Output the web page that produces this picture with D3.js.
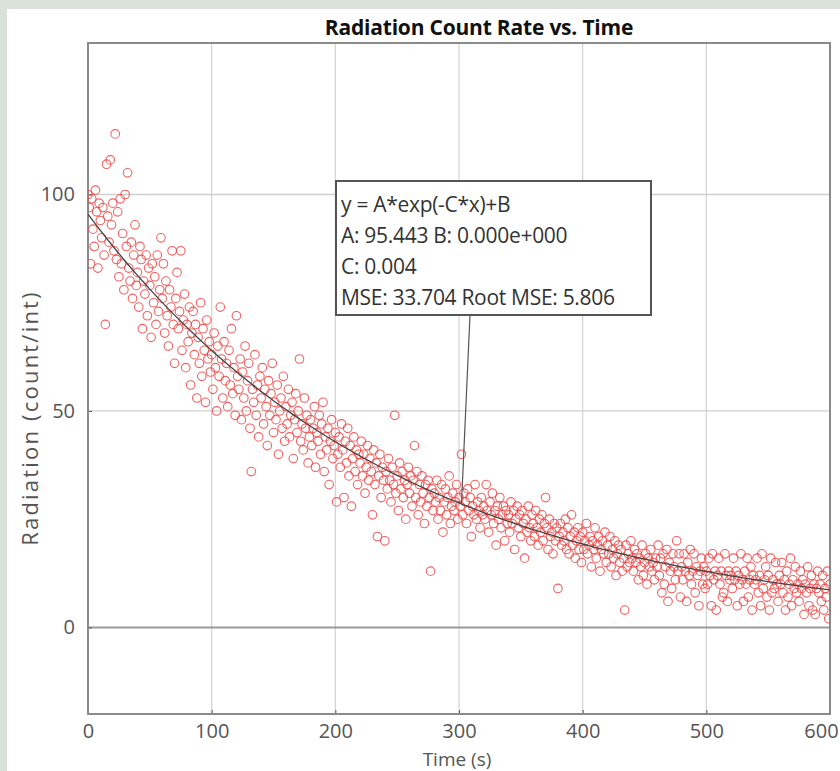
<!DOCTYPE html>
<html>
<head>
<meta charset="utf-8">
<script src="https://cdn.jsdelivr.net/npm/d3@7"></script>
<style>
  body { margin: 0; background: #d9e1d8; }
  svg { display: block; }
</style>
</head>
<body>
<div id="chart"></div>
<script>
// count rate per 1 s interval (t = 0 .. 600)
const counts = [
  100, 97, 84, 99, 92, 88, 101, 96, 83, 98, 94, 90, 97, 86, 70, 107, 95, 89, 108, 93,
  98, 87, 114, 85, 96, 81, 99, 84, 91, 78, 100, 88, 105, 83, 80, 89, 76, 86, 93, 79,
  82, 74, 88, 85, 69, 80, 77, 86, 72, 83, 79, 67, 84, 75, 81, 70, 86, 73, 78, 90,
  76, 84, 68, 80, 72, 65, 78, 74, 87, 70, 61, 76, 82, 69, 73, 87, 64, 71, 77, 60,
  70, 66, 74, 56, 68, 73, 63, 70, 53, 67, 61, 75, 58, 69, 64, 52, 71, 62, 66, 59,
  63, 55, 68, 60, 50, 65, 58, 74, 62, 53, 66, 57, 61, 51, 64, 56, 69, 54, 60, 49,
  72, 58, 55, 62, 48, 59, 53, 65, 50, 57, 61, 46, 36, 55, 52, 63, 49, 56, 44, 58,
  53, 60, 47, 55, 51, 42, 57, 49, 54, 61, 45, 52, 48, 56, 40, 50, 53, 46, 58, 43,
  51, 47, 55, 44, 49, 52, 39, 48, 54, 45, 50, 62, 43, 47, 41, 53, 46, 49, 38, 44,
  48, 42, 46, 51, 37, 45, 43, 49, 40, 47, 52, 36, 44, 41, 46, 33, 43, 48, 39, 42,
  45, 29, 40, 44, 37, 47, 41, 30, 43, 38, 46, 35, 42, 28, 39, 44, 36, 41, 33, 40,
  38, 43, 35, 40, 31, 37, 42, 34, 39, 36, 26, 41, 33, 38, 21, 35, 40, 30, 37, 34,
  20, 36, 32, 39, 34, 29, 37, 33, 49, 31, 35, 27, 38, 32, 36, 30, 34, 25, 33, 37,
  31, 35, 28, 34, 42, 30, 36, 26, 33, 29, 35, 31, 24, 33, 28, 34, 30, 13, 32, 27,
  31, 29, 34, 25, 30, 27, 33, 22, 29, 32, 26, 30, 35, 24, 28, 31, 27, 29, 33, 25,
  30, 28, 40, 26, 31, 29, 24, 32, 27, 30, 21, 28, 26, 33, 25, 29, 27, 23, 30, 26,
  28, 25, 33, 27, 22, 29, 26, 31, 24, 27, 19, 28, 25, 30, 23, 26, 28, 20, 27, 24,
  26, 22, 29, 24, 27, 18, 25, 28, 23, 26, 21, 27, 24, 16, 25, 22, 28, 23, 20, 26,
  24, 21, 27, 23, 19, 25, 22, 26, 20, 24, 30, 23, 18, 25, 21, 22, 17, 24, 20, 23,
  9, 21, 24, 19, 22, 20, 25, 18, 23, 17, 21, 26, 19, 22, 16, 20, 23, 18, 21, 15,
  22, 18, 20, 24, 17, 19, 21, 14, 20, 18, 23, 16, 19, 21, 13, 18, 20, 17, 22, 15,
  19, 17, 21, 14, 18, 16, 20, 12, 17, 19, 15, 18, 13, 16, 4, 19, 14, 17, 15, 20,
  16, 13, 18, 15, 17, 11, 16, 14, 19, 12, 15, 17, 10, 16, 14, 18, 13, 15, 11, 16,
  14, 19, 12, 16, 8, 17, 10, 14, 18, 6, 15, 13, 9, 17, 14, 11, 20, 13, 17, 7,
  14, 11, 17, 13, 6, 15, 12, 18, 10, 13, 17, 8, 14, 12, 5, 13, 16, 10, 14, 9,
  13, 10, 16, 12, 5, 17, 11, 13, 4, 12, 16, 10, 13, 7, 8, 17, 12, 6, 13, 11,
  12, 9, 16, 11, 13, 5, 12, 10, 17, 11, 6, 13, 10, 16, 7, 11, 14, 4, 12, 10,
  11, 16, 8, 12, 5, 17, 9, 11, 14, 7, 12, 4, 16, 8, 11, 9, 15, 10, 6, 12,
  10, 15, 8, 11, 4, 13, 7, 10, 16, 5, 11, 9, 14, 8, 10, 6, 13, 9, 11, 3,
  10, 8, 14, 5, 9, 12, 4, 10, 3, 9, 13, 8, 10, 6, 12, 4, 9, 7, 13, 2,
  10
]
const xTicks = [0, 100, 200, 300, 400, 500, 600]
const yTicks = [0, 50, 100]

// fit result shown in the box
const fitA = 95.443
const fitB = 0
const fitC = 0.004
const fitLines = [
  'y = A*exp(-C*x)+B',
  'A: 95.443 B: 0.000e+000',
  'C: 0.004',
  'MSE: 33.704 Root MSE: 5.806'
]

const width = 840
const height = 771
const margin = { top: 43, right: 10, bottom: 57, left: 88 }
const plotW = width - margin.left - margin.right
const plotH = height - margin.top - margin.bottom
const font = '"Open Sans", sans-serif'

const svg = d3.select('#chart')
  .append('svg')
  .attr('width', width)
  .attr('height', height)

// white panel over the sage background
svg.append('rect')
  .attr('x', 7)
  .attr('y', 9)
  .attr('width', width - 7)
  .attr('height', height - 9)
  .attr('fill', '#ffffff')

const x = d3.scaleLinear().domain([0, 600]).range([0, plotW])
const y = d3.scaleLinear().domain([-20, 135]).range([plotH, 0])

const g = svg.append('g').attr('transform', `translate(${margin.left},${margin.top})`)

g.append('clipPath').attr('id', 'clip')
  .append('rect').attr('width', plotW).attr('height', plotH)

// grid
g.append('g')
  .selectAll('line')
  .data(xTicks.slice(1, -1))
  .join('line')
  .attr('x1', (d) => x(d)).attr('x2', (d) => x(d))
  .attr('y1', 0).attr('y2', plotH)
  .attr('stroke', '#d2d2d2')
  .attr('stroke-width', 1.2)

g.append('g')
  .selectAll('line')
  .data(yTicks)
  .join('line')
  .attr('x1', 0).attr('x2', plotW)
  .attr('y1', (d) => y(d)).attr('y2', (d) => y(d))
  .attr('stroke', (d) => d == 0 ? '#9a9a9a' : '#cfcfcf')
  .attr('stroke-width', (d) => d == 0 ? 2 : 1.3)

// axes
const xAxis = g.append('g')
  .attr('transform', `translate(0,${plotH})`)
  .call(d3.axisBottom(x).tickValues(xTicks).tickSize(4).tickPadding(6))
const yAxis = g.append('g')
  .call(d3.axisLeft(y).tickValues(yTicks).tickSize(-4).tickPadding(13))

for (const ax of [xAxis, yAxis]) {
  ax.select('.domain').remove()
  ax.selectAll('line').attr('stroke', '#555')
  ax.selectAll('text')
    .attr('fill', '#555')
    .style('font-family', font)
    .style('font-size', '20px')
}
xAxis.selectAll('line').attr('y2', -4)
// last label sits against the right edge
xAxis.selectAll('text').filter((d) => d == 600).attr('dx', -9)

// frame
g.append('rect')
  .attr('width', plotW).attr('height', plotH)
  .attr('fill', 'none')
  .attr('stroke', '#8a8a8a')
  .attr('stroke-width', 2)

// data points
const pts = g.append('g').attr('clip-path', 'url(#clip)')
pts.selectAll('circle')
  .data(counts)
  .join('circle')
  .attr('cx', (d, i) => x(i))
  .attr('cy', (d) => y(d))
  .attr('r', 4.3)
  .attr('fill', 'none')
  .attr('stroke', '#f04545')
  .attr('stroke-opacity', 0.85)
  .attr('stroke-width', 1.1)

// fitted curve
const fitX = d3.range(0, 601, 5)
g.append('path')
  .datum(fitX)
  .attr('clip-path', 'url(#clip)')
  .attr('fill', 'none')
  .attr('stroke', '#444')
  .attr('stroke-width', 1.3)
  .attr('d', d3.line()
    .x((d) => x(d))
    .y((d) => y(fitA * Math.exp(-fitC * d) + fitB)))

// annotation box with pointer
const boxX = 336 - margin.left
const boxY = 181 - margin.top
const boxW = 315
const boxH = 134
const pointT = 302

g.append('line')
  .attr('x1', boxX + 134).attr('y1', boxY + boxH)
  .attr('x2', x(pointT)).attr('y2', y(fitA * Math.exp(-fitC * pointT) + fitB))
  .attr('stroke', '#555')
  .attr('stroke-width', 1.2)

g.append('rect')
  .attr('x', boxX).attr('y', boxY)
  .attr('width', boxW).attr('height', boxH)
  .attr('fill', '#ffffff')
  .attr('stroke', '#555')
  .attr('stroke-width', 2)

g.append('g')
  .selectAll('text')
  .data(fitLines)
  .join('text')
  .attr('x', boxX + 5)
  .attr('y', (d, i) => boxY + 31 + i * 31)
  .attr('fill', '#333')
  .style('font-family', font)
  .style('font-size', '21px')
  .style('letter-spacing', '-0.3px')
  .text((d) => d)

// title and labels
svg.append('text')
  .attr('x', 479)
  .attr('y', 35)
  .attr('text-anchor', 'middle')
  .attr('fill', '#111')
  .style('font-family', font)
  .style('font-weight', 'bold')
  .style('font-size', '21px')
  .style('letter-spacing', '-0.2px')
  .text('Radiation Count Rate vs. Time')

svg.append('text')
  .attr('x', 457)
  .attr('y', 766)
  .attr('text-anchor', 'middle')
  .attr('fill', '#555')
  .style('font-family', font)
  .style('font-size', '19px')
  .text('Time (s)')

svg.append('text')
  .attr('transform', `translate(38,418) rotate(-90)`)
  .attr('text-anchor', 'middle')
  .attr('fill', '#555')
  .style('font-family', font)
  .style('font-size', '22px')
  .style('letter-spacing', '2.2px')
  .text('Radiation (count/int)')
</script>
</body>
</html>
